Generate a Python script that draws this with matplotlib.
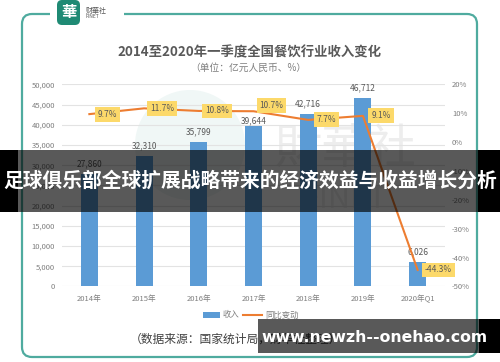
import numpy as np
import matplotlib
matplotlib.use('Agg')
import matplotlib.pyplot as plt
from matplotlib.patches import FancyBboxPatch, Rectangle

plt.rcParams['font.family'] = ['Noto Sans CJK SC', 'DejaVu Sans']

# data
years   = ['2014年', '2015年', '2016年', '2017年', '2018年', '2019年', '2020年Q1']
revenue = [27860, 32310, 35799, 39644, 42716, 46712, 6026]
yoy     = [9.7, 11.7, 10.8, 10.7, 7.7, 9.1, -44.3]
left_ticks  = list(range(0, 50001, 5000))
right_ticks = list(range(-50, 21, 10))

title    = '2014至2020年一季度全国餐饮行业收入变化'
subtitle = '（单位：亿元人民币、%）'
source   = '（数据来源：国家统计局，财华社整理）'
banner   = '足球俱乐部全球扩展战略带来的经济效益与收益增长分析'
url      = 'www.newzh--onehao.com'

BLUE = '#5b9bd5'
ORANGE = '#ed7d31'
GRAY = '#7f7f7f'
TEAL = '#4fab9f'

W, H = 500, 362
fig = plt.figure(figsize=(W/100, H/100), dpi=100)
fig.patch.set_facecolor('white')
T = fig.dpi_scale_trans

def P(x, y):
    # pixel (from top-left) -> inches for dpi_scale_trans
    return x/100, (H - y)/100

def ftext(x, y, s, **kw):
    fig.text(*P(x, y), s, transform=T, **kw)

# frame with gap for logo
fig.patches.append(FancyBboxPatch(P(22, 357), (477-22)/100, (357-14)/100,
                                  boxstyle='round,pad=0,rounding_size=0.1',
                                  transform=T, fill=False, ec=TEAL, lw=1.6, zorder=-1))
fig.patches.append(Rectangle(P(50, 20), 74/100, 12/100, transform=T,
                             fc='white', ec='none', zorder=1))
# logo
fig.patches.append(FancyBboxPatch(P(57, 25), 23/100, 25/100,
                                  boxstyle='round,pad=0,rounding_size=0.05',
                                  transform=T, fc='#1f8a74', ec='none', zorder=2))
ftext(68.5, 12.5, '華', color='white', fontsize=11, fontweight='bold',
      ha='center', va='center', zorder=3)
ftext(86, 10.5, '财華社', color='#555555', fontsize=5, ha='left', va='center', zorder=3)
ftext(86, 17, 'FINET', color='#555555', fontsize=3.5, ha='left', va='center', zorder=3)

# watermark (behind the chart)
fig.patches.append(plt.Circle(P(190, 145), 0.55, transform=T, fc='#f0f7f6',
                              ec='none', zorder=-2))
ftext(345, 150, '財華社', color='#ededed', fontsize=34, ha='center', va='center', zorder=-2)
ftext(345, 200, 'FINET', color='#efefef', fontsize=22, ha='center', va='center', zorder=-2)

# titles
ftext(249, 52, title, color='#595959', fontsize=9.6, fontweight='bold', ha='center', va='center')
ftext(248, 68, subtitle, color='#7f7f7f', fontsize=7, ha='center', va='center')

# main axes
ax = fig.add_axes([62/W, 1 - 286.4/H, (445-62)/W, (286.4-84.4)/H])
ax.patch.set_alpha(0)
x = np.arange(len(years))
ax.bar(x, revenue, width=0.31, color=BLUE, zorder=2)
ax.set_xlim(-0.5, len(years) - 0.5)
ax.set_ylim(0, 50000)
ax.set_yticks(left_ticks)
ax.set_yticklabels(['{:,}'.format(v) for v in left_ticks])
ax.set_xticks(x)
ax.set_xticklabels(years)
ax.grid(axis='y', color='#e3e3e3', lw=0.8, zorder=0)
for s in ax.spines.values():
    s.set_visible(False)
ax.tick_params(length=0, labelsize=5.5, labelcolor=GRAY)
ax.tick_params(axis='x', pad=6)
ax.tick_params(axis='y', pad=5)
for i, (xi, v) in enumerate(zip(x, revenue)):
    dy = 1 if i == 3 else 4   # excel nudged this one down
    ax.annotate('{:,}'.format(v), (xi, v), xytext=(0, dy), textcoords='offset points',
                ha='center', va='bottom', fontsize=6, color='#595959')

ax2 = ax.twinx()
ax2.set_ylim(-50, 20)
ax2.set_yticks(right_ticks)
ax2.set_yticklabels(['{}%'.format(v) for v in right_ticks])
for s in ax2.spines.values():
    s.set_visible(False)
ax2.tick_params(length=0, labelsize=5.5, labelcolor=GRAY, pad=5)
ax2.plot(x, yoy, color=ORANGE, lw=1.5, zorder=3)
for i, (xi, v) in enumerate(zip(x, yoy)):
    dx = 13 if i < len(yoy) - 1 else 15
    dy = 4 if i == 3 else 0
    ax2.annotate('{}%'.format(v), (xi, v), xytext=(dx, dy), textcoords='offset points',
                 ha='center', va='center', fontsize=6, color='#595959', zorder=4,
                 bbox=dict(boxstyle='square,pad=0.35', fc='#fcd96a', ec='none'))

# legend
fig.patches.append(Rectangle(P(203, 318), 17/100, 6/100, transform=T, fc=BLUE, ec='none'))
ftext(223, 315, '收入', color=GRAY, fontsize=6, ha='left', va='center')
fig.lines.append(plt.Line2D([243/100, 262/100], [(H-315)/100]*2, transform=T,
                            color=ORANGE, lw=1.5))
ftext(265, 315, '同比变动', color=GRAY, fontsize=6, ha='left', va='center')
ftext(130, 339, source, color='#404040', fontsize=8.5, ha='left', va='center')

# overlay banners
fig.patches.append(Rectangle(P(0, 212), 5.0, 62/100, transform=T, fc='black',
                             alpha=0.65, ec='none', zorder=10))
fig.patches.append(Rectangle(P(0, 212), 18/100, 62/100, transform=T, fc='black',
                             ec='none', zorder=10))
fig.patches.append(Rectangle(P(478, 212), 22/100, 62/100, transform=T, fc='black',
                             ec='none', zorder=10))
ftext(250, 181, banner, color='white', fontsize=14.2, fontweight='bold',
      ha='center', va='center', zorder=11)

fig.patches.append(Rectangle(P(258, 353), (479-258)/100, 34/100, transform=T, fc='black',
                             alpha=0.65, ec='none', zorder=10))
fig.patches.append(Rectangle(P(479, 353), 21/100, 34/100, transform=T, fc='black',
                             ec='none', zorder=10))
ftext(374, 337, url, color='white', fontsize=11.3, fontweight='bold',
      family=['DejaVu Sans'], ha='center', va='center', zorder=11)

fig.savefig('out.png', dpi=100)
